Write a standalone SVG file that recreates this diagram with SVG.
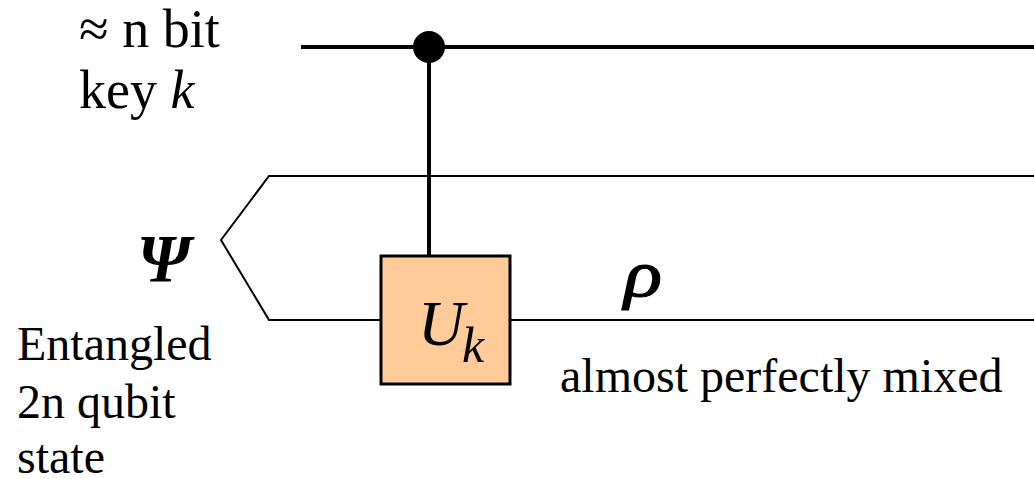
<svg xmlns="http://www.w3.org/2000/svg" width="1034" height="479" viewBox="0 0 1034 479">
<style>
text{font-family:"Liberation Serif","Times New Roman",serif;fill:#000}
.t{font-size:48px}
.h{font-size:54px}
.w{fill:none;stroke:#000}
</style>
<rect width="1034" height="479" fill="#fff"/>
<g id="connectors">
<path class="w" stroke-width="4" d="M301 47H1034"/>
<path class="w" stroke-width="4" d="M429 47V255"/>
<path class="w" stroke-width="2" d="M1034 176H269L221 240L269 320H380M510 320H1034"/>
</g>
<g id="control"><circle cx="429" cy="47" r="16"/></g>
<g id="gate">
<rect x="381" y="256" width="129" height="128" fill="#ffcc99" stroke="#000" stroke-width="3"/>
<text x="418" y="345" font-size="64" font-style="italic">U</text>
<text x="462" y="362" font-size="50" font-style="italic">k</text>
</g>
<g id="labels">
<text class="h" x="79" y="47">≈ n bit</text>
<text class="h" x="79" y="108">key <tspan font-style="italic">k</tspan></text>
<text x="137" y="281" font-size="67" font-style="italic" font-weight="bold">Ψ</text>
<text transform="translate(624 296) scale(1.2 1)" font-size="66" font-style="italic" stroke="#000" stroke-width="1.2">ρ</text>
<text class="t" x="17" y="360">Entangled</text>
<text class="t" x="17" y="418">2n qubit</text>
<text class="t" x="17" y="473">state</text>
<text class="t" x="560" y="392">almost perfectly mixed</text>
</g>
</svg>
